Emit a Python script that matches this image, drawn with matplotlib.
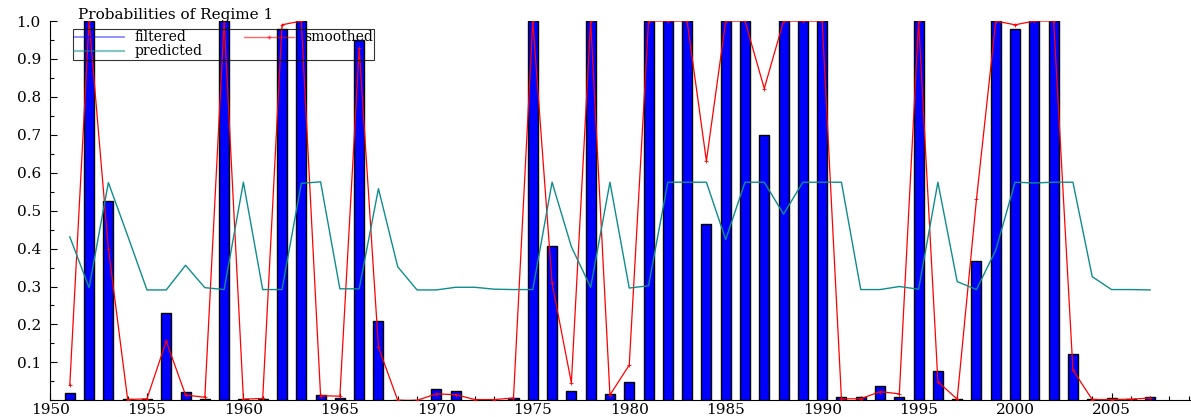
import numpy as np
import matplotlib
matplotlib.use("Agg")
import matplotlib.pyplot as plt
from matplotlib.lines import Line2D
from matplotlib.ticker import MultipleLocator, FixedLocator

years = np.arange(1951, 2008)

filtered = [0.02, 1.0, 0.525, 0.003, 0.004, 0.23, 0.022, 0.004, 1.0, 0.004,
            0.004, 0.98, 1.0, 0.013, 0.006, 0.95, 0.209, 0.001, 0.001, 0.03,
            0.024, 0.002, 0.002, 0.005, 1.0, 0.407, 0.024, 1.0, 0.017, 0.049,
            1.0, 1.0, 1.0, 0.465, 1.0, 1.0, 0.70, 1.0, 1.0, 1.0,
            0.008, 0.008, 0.037, 0.008, 1.0, 0.077, 0.004, 0.367, 1.0, 0.98,
            1.0, 1.0, 0.121, 0.004, 0.006, 0.004, 0.008]

smoothed = [0.04, 1.0, 0.40, 0.002, 0.004, 0.156, 0.014, 0.008, 1.0, 0.003,
            0.005, 0.99, 1.0, 0.012, 0.011, 0.928, 0.14, 0.0, 0.0, 0.017,
            0.015, 0.002, 0.002, 0.006, 1.0, 0.309, 0.046, 1.0, 0.014, 0.093,
            1.0, 1.0, 1.0, 0.631, 1.0, 1.0, 0.822, 1.0, 1.0, 1.0,
            0.004, 0.004, 0.023, 0.017, 1.0, 0.049, 0.003, 0.53, 1.0, 0.99,
            1.0, 1.0, 0.08, 0.002, 0.002, 0.003, 0.006]

predicted = [0.431, 0.297, 0.574, 0.434, 0.291, 0.291, 0.356, 0.297, 0.292, 0.575,
             0.292, 0.292, 0.572, 0.576, 0.294, 0.294, 0.558, 0.352, 0.291, 0.291,
             0.298, 0.298, 0.293, 0.292, 0.292, 0.575, 0.405, 0.298, 0.575, 0.296,
             0.302, 0.575, 0.575, 0.575, 0.424, 0.575, 0.575, 0.491, 0.575, 0.575,
             0.575, 0.292, 0.292, 0.300, 0.293, 0.575, 0.313, 0.292, 0.396, 0.575,
             0.573, 0.575, 0.575, 0.326, 0.292, 0.292, 0.291]

plt.rcParams["font.family"] = ["DejaVu Serif"]
plt.rcParams["font.size"] = 11

teal = "#108c8c"

fig = plt.figure(figsize=(11.91, 4.17), dpi=100)
ax = fig.add_axes([0.0424, 0.040, 0.9576, 0.9096])

ax.bar(years, filtered, width=0.52, color="#0000ff", edgecolor="black", linewidth=1.0, zorder=2)
ax.plot(years, smoothed, color="red", lw=0.9, marker="+", ms=3, mew=0.6, zorder=3)
ax.plot(years, predicted, color=teal, lw=1.0, zorder=3)

ax.set_xlim(1950, 2009.12)
ax.set_ylim(0, 1.0)

ax.spines["top"].set_visible(False)
ax.spines["right"].set_visible(False)

ax.xaxis.set_major_locator(MultipleLocator(5))
ax.xaxis.set_minor_locator(MultipleLocator(1))
ax.yaxis.set_major_locator(FixedLocator(np.round(np.arange(0.1, 1.01, 0.1), 1)))
ax.yaxis.set_minor_locator(MultipleLocator(0.05))
ax.yaxis.set_major_formatter(plt.FormatStrFormatter("%.1f"))
ax.tick_params(which="major", direction="in", length=5, width=0.8)
ax.tick_params(which="minor", direction="in", length=3, width=0.8)
ax.tick_params(axis="x", pad=2)
ax.tick_params(axis="y", pad=7)

fig.text(78 / 1191, 1 - 19 / 417, "Probabilities of Regime 1", ha="left", va="baseline", fontsize=11)

handles = [Line2D([], [], color="blue", alpha=0.5, lw=1.2),
           Line2D([], [], color=teal, alpha=0.5, lw=1.6),
           Line2D([], [], color="red", alpha=0.6, lw=1.0, marker="+", ms=3)]
leg = ax.legend(handles, ["filtered", "predicted", "smoothed"], ncol=2,
                loc="upper left", bbox_to_anchor=(73 / 1191, 1 - 29 / 417),
                bbox_transform=fig.transFigure, frameon=True, fancybox=False,
                fontsize=10, handlelength=3.6, handletextpad=0.72, columnspacing=3.0,
                labelspacing=0.0, borderpad=0.1, borderaxespad=0)
leg.get_frame().set_facecolor("none")
leg.get_frame().set_edgecolor("black")
leg.get_frame().set_linewidth(0.8)

fig.savefig("out.png", dpi=100)
